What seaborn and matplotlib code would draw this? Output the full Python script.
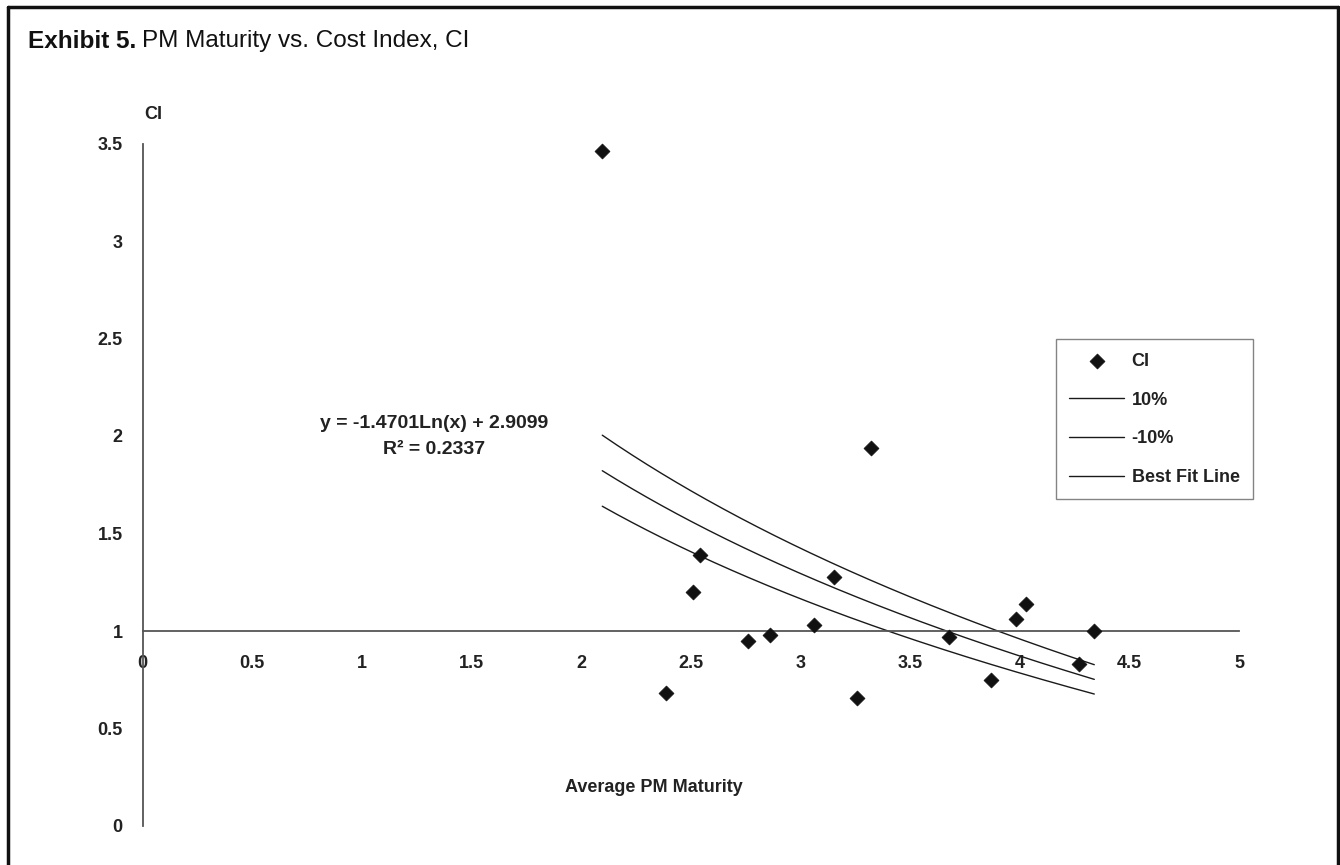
import numpy as np
import pandas as pd
import matplotlib
matplotlib.use("Agg")
import matplotlib.pyplot as plt
import seaborn as sns
from matplotlib.lines import Line2D

sns.set_theme(style="white")
plt.rcParams["font.family"] = ["Liberation Sans Narrow", "Liberation Sans", "DejaVu Sans"]

ci_x = [2.096, 2.386, 2.508, 2.544, 2.760, 2.862, 3.060, 3.152,
        3.256, 3.321, 3.677, 3.871, 3.982, 4.027, 4.270, 4.340]
ci_y = [3.462, 0.684, 1.202, 1.391, 0.949, 0.979, 1.032, 1.275,
        0.655, 1.937, 0.968, 0.749, 1.062, 1.138, 0.831, 1.000]

# log trend line as printed on the chart
fit_slope = -1.4701
fit_intercept = 2.9099
fit_r2 = 0.2337
band = 0.10

x_ticks = [0, 0.5, 1, 1.5, 2, 2.5, 3, 3.5, 4, 4.5, 5]
y_ticks = [0, 0.5, 1, 1.5, 2, 2.5, 3, 3.5]
tick_labels_x = ["0", "0.5", "1", "1.5", "2", "2.5", "3", "3.5", "4", "4.5", "5"]
tick_labels_y = ["0", "0.5", "1", "1.5", "2", "2.5", "3", "3.5"]

df = pd.DataFrame({"x": ci_x, "y": ci_y})
xs = np.linspace(min(ci_x), max(ci_x), 200)
fit = fit_slope * np.log(xs) + fit_intercept
curves = pd.DataFrame({"x": xs, "fit": fit, "up": fit * (1 + band), "dn": fit * (1 - band)})

W, H = 1340, 865
fig = plt.figure(figsize=(W / 100, H / 100), dpi=100)
x0, x5 = 142.7, 1239.0
y0, y35 = 826.0, 143.5
ax = fig.add_axes([x0 / W, (H - y0) / H, (x5 - x0) / W, (y0 - y35) / H])
ax.set_facecolor("none")

lc = "#1a1a1a"
sns.scatterplot(data=df, x="x", y="y", marker="D", s=58, color="#111111",
                edgecolor="#111111", linewidth=0.5, ax=ax, label="CI", zorder=5, clip_on=False)
sns.lineplot(data=curves, x="x", y="up", color=lc, lw=1.0, ax=ax, label="10%")
sns.lineplot(data=curves, x="x", y="dn", color=lc, lw=1.0, ax=ax, label="-10%")
sns.lineplot(data=curves, x="x", y="fit", color=lc, lw=1.0, ax=ax, label="Best Fit Line")

ax.set_xlim(0, 5)
ax.set_ylim(0, 3.5)
for s in ["top", "right"]:
    ax.spines[s].set_visible(False)
ax.spines["left"].set_position(("data", 0))
ax.spines["bottom"].set_position(("data", 1))
for s in ["left", "bottom"]:
    ax.spines[s].set_color("#555555")
    ax.spines[s].set_linewidth(1.3)

ax.set_xticks(x_ticks)
ax.set_xticklabels(tick_labels_x)
ax.set_yticks(y_ticks)
ax.set_yticklabels(tick_labels_y)
ax.tick_params(axis="both", direction="inout", length=8.6, width=1.0, color="#555555",
               labelsize=13, labelcolor="#222222")
ax.tick_params(axis="y", pad=10)
ax.tick_params(axis="x", pad=13)
for lab in ax.get_xticklabels() + ax.get_yticklabels():
    lab.set_fontweight("bold")
ax.set_xlabel("")
ax.set_ylabel("")

ax.text(0.005, 3.65, "CI", fontsize=13, fontweight="bold", color="#222222",
        ha="left", va="center")
ax.text(2.33, 0.2, "Average PM Maturity", fontsize=13, fontweight="bold",
        color="#222222", ha="center", va="center")
ax.text(1.33, 1.998, f"y = {fit_slope:.4f}Ln(x) + {fit_intercept:.4f}\nR² = {fit_r2:.4f}",
        fontsize=14, fontweight="bold", color="#222222", ha="center", va="center",
        multialignment="center", linespacing=1.65)

leg = ax.legend(loc="upper left", bbox_to_anchor=(1055.7 / W, 1 - 339.3 / H),
                bbox_transform=fig.transFigure, frameon=True, fancybox=False,
                edgecolor="#666666", handlelength=3.05, handletextpad=0.4,
                borderpad=0.75, labelspacing=1.2, borderaxespad=0,
                prop={"size": 13, "weight": "bold"})
leg.get_frame().set_linewidth(1.0)
for t in leg.get_texts():
    t.set_color("#222222")

# title: bold lead-in followed by regular text
t1 = fig.text(28 / W, 1 - 41 / H, "Exhibit 5.", fontsize=17.5, fontweight="bold",
              ha="left", va="center", color="#111111")
fig.canvas.draw()
bb = t1.get_window_extent(fig.canvas.get_renderer())
fig.text((bb.x1 + 6) / W, 1 - 41 / H, "PM Maturity vs. Cost Index, CI", fontsize=17.5,
         ha="left", va="center", color="#111111")

# outer frame
frame_kw = dict(transform=fig.transFigure, color="#111111", lw=2.5)
fig.add_artist(Line2D([8 / W, 8 / W], [0, 1 - 7 / H], **frame_kw))
fig.add_artist(Line2D([8 / W, 1338 / W], [1 - 7 / H, 1 - 7 / H], **frame_kw))
fig.add_artist(Line2D([1338 / W, 1338 / W], [0, 1 - 7 / H], **frame_kw))

fig.savefig("out.png", dpi=100)
